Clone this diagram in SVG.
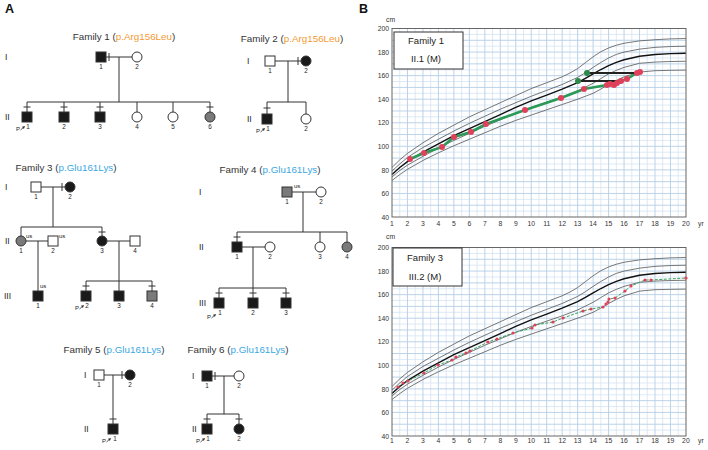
<svg xmlns="http://www.w3.org/2000/svg" xmlns:xlink="http://www.w3.org/1999/xlink" width="708" height="450" viewBox="0 0 708 450">
<style>
text{font-family:"Liberation Sans",Arial,sans-serif;fill:#2a2a2a}
.pl{font-size:12.5px;font-weight:bold;fill:#111}
.ttl{font-size:9.8px;text-anchor:middle;fill:#333}
.org{fill:#f39a35}
.blu{fill:#3aa8df}
.gen{font-size:8.5px;fill:#222}
.num{font-size:6.3px;text-anchor:middle;fill:#222}
.us{font-size:6px;fill:#222}
.pp{font-size:6px;fill:#222}
.ln{stroke:#333;stroke-width:1;fill:none}
.aff{fill:#1a1a1a;stroke:#333;stroke-width:1}
.un{fill:#fff;stroke:#333;stroke-width:1}
.gry{fill:#7a7a7a;stroke:#333;stroke-width:1}
.gmin{stroke:#d0e1f1;stroke-width:0.7;fill:none}
.gmaj{stroke:#b4cee6;stroke-width:0.9;fill:none}
.pc{stroke:#555;stroke-width:0.8;fill:none;stroke-linejoin:round}
.pb{stroke:#111;stroke-width:1.4;fill:none;stroke-linejoin:round}
.frame{fill:none;stroke:#666;stroke-width:1}
.lg{fill:#fff;stroke:#333;stroke-width:1}
.lgt{font-size:9.5px;text-anchor:middle;fill:#222}
.ax{font-size:6.8px;fill:#333}
.axy{font-size:6.8px;fill:#333;text-anchor:end}
.axx{font-size:6.8px;fill:#333;text-anchor:middle}
.rd{fill:#e0405a}
.gd{fill:#2a8a4a}
</style>
<defs>
<g id="parrow"><path d="M0 0 L3 -2.6" stroke="#333" stroke-width="0.8"/><polygon points="4.6,-4 1.5,-3.3 3.3,-1.1" fill="#333"/></g>
<g id="chartbase">
<path class="gmin" vector-effect="non-scaling-stroke" d="M1.5 40V200M2.5 40V200M3.5 40V200M4.5 40V200M5.5 40V200M6.5 40V200M7.5 40V200M8.5 40V200M9.5 40V200M10.5 40V200M11.5 40V200M12.5 40V200M13.5 40V200M14.5 40V200M15.5 40V200M16.5 40V200M17.5 40V200M18.5 40V200M19.5 40V200M1 45H20M1 55H20M1 65H20M1 75H20M1 85H20M1 95H20M1 105H20M1 115H20M1 125H20M1 135H20M1 145H20M1 155H20M1 165H20M1 175H20M1 185H20M1 195H20"/>
<path class="gmaj" vector-effect="non-scaling-stroke" d="M2 40V200M3 40V200M4 40V200M5 40V200M6 40V200M7 40V200M8 40V200M9 40V200M10 40V200M11 40V200M12 40V200M13 40V200M14 40V200M15 40V200M16 40V200M17 40V200M18 40V200M19 40V200M1 50H20M1 60H20M1 70H20M1 80H20M1 90H20M1 100H20M1 110H20M1 120H20M1 130H20M1 140H20M1 150H20M1 160H20M1 170H20M1 180H20M1 190H20"/>
<polyline class="pc" vector-effect="non-scaling-stroke" points="1,82 1.5,88.5 2,94 3,103 4,111 5,118 6,125 7,131 8,137 9,143 10,149 11,154 12,159 12.5,162.2 13,166 13.5,171 14,176 14.5,180.3 15,183.5 15.5,185.8 16,187.5 17,189.5 18,190.5 19,191.2 20,191.5"/>
<polyline class="pc" vector-effect="non-scaling-stroke" points="1,79 1.5,85 2,90.5 3,99 4,106 5,113 6,119.5 7,125.5 8,131.5 9,137 10,142.5 11,147.5 12,152.5 13,158.5 13.5,162.5 14,167 14.5,171.2 15,175 15.5,178 16,180 17,182.5 18,184 19,184.7 20,185"/>
<polyline class="pb" vector-effect="non-scaling-stroke" points="1,76 1.5,82 2,87 3,95 4,102 5,109 6,115 7,121 8,127 9,133 10,138.5 11,143.5 12,148.5 13,154 13.5,157.6 14,161.5 14.5,165.2 15,168.5 15.5,171.3 16,173.5 17,176.5 18,178 19,178.7 20,179"/>
<polyline class="pc" vector-effect="non-scaling-stroke" points="1,74 1.5,79.5 2,84 3,91.5 4,98.5 5,105 6,111 7,117 8,122.5 9,128 10,133 11,137.5 12,142 13,147 14,153.5 14.5,157.5 15,161.5 15.5,164.5 16,167 17,170.5 18,171.5 19,172 20,172.2"/>
<polyline class="pc" vector-effect="non-scaling-stroke" points="1,71 1.5,76 2,80.5 3,88 4,94.5 5,100.5 6,106 7,111.5 8,117 9,122 10,126.5 11,131 12,135.5 13,140 14,145 14.5,148.6 15,152.5 15.5,156 16,159 17,163 18,164.2 19,164.5 20,164.7"/>
</g>
</defs>
<rect width="708" height="450" fill="#fff"/>
<text class="pl" x="5" y="12.5">A</text>
<text class="pl" x="359" y="12.5">B</text>

<!-- Family 1 -->
<g id="family1">
<text class="ttl" x="124" y="40">Family 1 (<tspan class="org">p.Arg156Leu</tspan>)</text>
<text class="gen" x="5" y="60">I</text>
<text class="gen" x="5" y="120">II</text>
<g id="f1-connectors">
<path class="ln" d="M106 57H132M109 53V61M119 57V102M27 102H210M27 102V112M64 102V112M100 102V112M137 102V112M173 102V112M210 102V112M23.5 107H30.5M60.5 107H67.5M96.5 107H103.5M206.5 107H213.5"/>
</g>
<g id="f1-I1"><rect class="aff" x="96" y="52" width="10" height="10"/><text class="num" x="101" y="69">1</text></g>
<g id="f1-I2"><circle class="un" cx="137" cy="57" r="5"/><text class="num" x="137" y="69">2</text></g>
<g id="f1-II1"><rect class="aff" x="22" y="112" width="10" height="10"/><text class="num" x="28" y="129">1</text><text class="pp" x="16" y="131">P</text><use xlink:href="#parrow" x="20.5" y="130"/></g>
<g id="f1-II2"><rect class="aff" x="59" y="112" width="10" height="10"/><text class="num" x="64" y="129">2</text></g>
<g id="f1-II3"><rect class="aff" x="95" y="112" width="10" height="10"/><text class="num" x="100" y="129">3</text></g>
<g id="f1-II4"><circle class="un" cx="137" cy="117" r="5"/><text class="num" x="137" y="129">4</text></g>
<g id="f1-II5"><circle class="un" cx="173" cy="117" r="5"/><text class="num" x="173" y="129">5</text></g>
<g id="f1-II6"><circle class="gry" cx="210" cy="117" r="5"/><text class="num" x="210" y="129">6</text></g>
</g>

<!-- Family 2 -->
<g id="family2">
<text class="ttl" x="292" y="42">Family 2 (<tspan class="org">p.Arg156Leu</tspan>)</text>
<text class="gen" x="247" y="64">I</text>
<text class="gen" x="247" y="122">II</text>
<g id="f2-connectors">
<path class="ln" d="M275 61H301M298 57V65M288 61V102M267 102H306M267 102V114M306 102V114M263.5 108H270.5"/>
</g>
<g id="f2-I1"><rect class="un" x="265" y="56" width="10" height="10"/><text class="num" x="270" y="73">1</text></g>
<g id="f2-I2"><circle class="aff" cx="306" cy="61" r="5"/><text class="num" x="306" y="73">2</text></g>
<g id="f2-II1"><rect class="aff" x="262" y="114" width="10" height="10"/><text class="num" x="268" y="131">1</text><text class="pp" x="256" y="133">P</text><use xlink:href="#parrow" x="260.5" y="132"/></g>
<g id="f2-II2"><circle class="un" cx="306" cy="119" r="5"/><text class="num" x="306" y="131">2</text></g>
</g>

<!-- Family 3 -->
<g id="family3">
<text class="ttl" x="66" y="171">Family 3 (<tspan class="blu">p.Glu161Lys</tspan>)</text>
<text class="gen" x="5" y="190">I</text>
<text class="gen" x="5" y="244">II</text>
<text class="gen" x="4" y="299">III</text>
<g id="f3-connectors">
<path class="ln" d="M41 187H65M62 183V191M53 187V227M21 227H102M21 227V236M102 227V236M98.5 232H105.5M26 241H48M107 241H130M38 241V291M119 241V281M86 281H152M86 281V291M119 281V291M152 281V291M82.5 286H89.5M148.5 286H155.5"/>
</g>
<g id="f3-I1"><rect class="un" x="31" y="182" width="10" height="10"/><text class="num" x="36" y="199">1</text></g>
<g id="f3-I2"><circle class="aff" cx="70" cy="187" r="5"/><text class="num" x="70" y="199">2</text></g>
<g id="f3-II1"><circle class="gry" cx="21" cy="241" r="5"/><text class="us" x="26" y="238">us</text><text class="num" x="21" y="253">1</text></g>
<g id="f3-II2"><rect class="un" x="48" y="236" width="10" height="10"/><text class="us" x="59" y="238">us</text><text class="num" x="53" y="253">2</text></g>
<g id="f3-II3"><circle class="aff" cx="102" cy="241" r="5"/><text class="num" x="102" y="253">3</text></g>
<g id="f3-II4"><rect class="un" x="130" y="236" width="10" height="10"/><text class="num" x="135" y="253">4</text></g>
<g id="f3-III1"><rect class="aff" x="33" y="291" width="10" height="10"/><text class="us" x="40" y="288">us</text><text class="num" x="38" y="308">1</text></g>
<g id="f3-III2"><rect class="aff" x="81" y="291" width="10" height="10"/><text class="num" x="87" y="308">2</text><text class="pp" x="75" y="310">P</text><use xlink:href="#parrow" x="79.5" y="309"/></g>
<g id="f3-III3"><rect class="aff" x="114" y="291" width="10" height="10"/><text class="num" x="119" y="308">3</text></g>
<g id="f3-III4"><rect class="gry" x="147" y="291" width="10" height="10"/><text class="num" x="152" y="308">4</text></g>
</g>

<!-- Family 4 -->
<g id="family4">
<text class="ttl" x="270" y="173">Family 4 (<tspan class="blu">p.Glu161Lys</tspan>)</text>
<text class="gen" x="199" y="195">I</text>
<text class="gen" x="199" y="250">II</text>
<text class="gen" x="199" y="306">III</text>
<g id="f4-connectors">
<path class="ln" d="M292 192H316M303 192V232M237 232H347M237 232V242M320 232V242M347 232V242M233.5 237H240.5M242 247H265M253 247V288M219 288H286M219 288V298M253 288V298M286 288V298M215.5 293H222.5M249.5 293H256.5M282.5 293H289.5"/>
</g>
<g id="f4-I1"><rect class="gry" x="282" y="187" width="10" height="10"/><text class="us" x="294" y="188">us</text><text class="num" x="287" y="204">1</text></g>
<g id="f4-I2"><circle class="un" cx="321" cy="192" r="5"/><text class="num" x="321" y="204">2</text></g>
<g id="f4-II1"><rect class="aff" x="232" y="242" width="10" height="10"/><text class="num" x="237" y="259">1</text></g>
<g id="f4-II2"><circle class="un" cx="270" cy="247" r="5"/><text class="num" x="270" y="259">2</text></g>
<g id="f4-II3"><circle class="un" cx="320" cy="247" r="5"/><text class="num" x="320" y="259">3</text></g>
<g id="f4-II4"><circle class="gry" cx="347" cy="247" r="5"/><text class="num" x="347" y="259">4</text></g>
<g id="f4-III1"><rect class="aff" x="214" y="298" width="10" height="10"/><text class="num" x="220" y="315">1</text><text class="pp" x="207" y="319">P</text><use xlink:href="#parrow" x="211.5" y="318"/></g>
<g id="f4-III2"><rect class="aff" x="248" y="298" width="10" height="10"/><text class="num" x="253" y="315">2</text></g>
<g id="f4-III3"><rect class="aff" x="281" y="298" width="10" height="10"/><text class="num" x="286" y="315">3</text></g>
</g>

<!-- Family 5 -->
<g id="family5">
<text class="ttl" x="114" y="353">Family 5 (<tspan class="blu">p.Glu161Lys</tspan>)</text>
<text class="gen" x="84" y="378">I</text>
<text class="gen" x="84" y="432">II</text>
<g id="f5-connectors">
<path class="ln" d="M104 375H125M122 371V379M113 375V424M109.5 419H116.5"/>
</g>
<g id="f5-I1"><rect class="un" x="94" y="370" width="10" height="10"/><text class="num" x="99" y="387">1</text></g>
<g id="f5-I2"><circle class="aff" cx="130" cy="375" r="5"/><text class="num" x="130" y="387">2</text></g>
<g id="f5-II1"><rect class="aff" x="108" y="424" width="10" height="10"/><text class="num" x="115" y="441">1</text><text class="pp" x="102" y="443">P</text><use xlink:href="#parrow" x="106.5" y="442"/></g>
</g>

<!-- Family 6 -->
<g id="family6">
<text class="ttl" x="238" y="353">Family 6 (<tspan class="blu">p.Glu161Lys</tspan>)</text>
<text class="gen" x="192" y="379">I</text>
<text class="gen" x="192" y="432">II</text>
<g id="f6-connectors">
<path class="ln" d="M212 376H234M215 372V380M224 376V414M207 414H239M207 414V424M239 414V424M203.5 419H210.5M235.5 419H242.5"/>
</g>
<g id="f6-I1"><rect class="aff" x="202" y="371" width="10" height="10"/><text class="num" x="207" y="388">1</text></g>
<g id="f6-I2"><circle class="un" cx="239" cy="376" r="5"/><text class="num" x="239" y="388">2</text></g>
<g id="f6-II1"><rect class="aff" x="202" y="424" width="10" height="10"/><text class="num" x="208" y="441">1</text><text class="pp" x="196" y="443">P</text><use xlink:href="#parrow" x="200.5" y="442"/></g>
<g id="f6-II2"><circle class="aff" cx="239" cy="429" r="5"/><text class="num" x="239" y="441">2</text></g>
</g>

<!-- Chart 1 -->
<g id="chart1">
<rect x="392" y="28.5" width="294" height="188.5" fill="#fff"/>
<use xlink:href="#chartbase" transform="matrix(15.47 0 0 -1.178 376.53 264.12)"/>
<rect class="frame" x="392" y="28.5" width="294" height="188.5"/>
<g id="chart1-data">
<polyline fill="none" stroke="#2b9a57" stroke-width="2.6" stroke-linejoin="round" points="410,159 424,153 442,147 454,137 471,132 486,124 525,110 561,98 584,89 607,85 609,84 613,85 617,83 621,81 627,79 637,73 640,72"/>
<path d="M587 73H637M578 81H621" stroke="#222" stroke-width="2" fill="none"/>
<circle class="gd" cx="587" cy="73" r="3"/><circle class="gd" cx="578" cy="81" r="3"/>
<circle class="rd" cx="410" cy="159" r="3"/><circle class="rd" cx="424" cy="153" r="3"/><circle class="rd" cx="442" cy="147" r="3"/><circle class="rd" cx="454" cy="137" r="3"/><circle class="rd" cx="471" cy="132" r="3"/><circle class="rd" cx="486" cy="124" r="3"/><circle class="rd" cx="525" cy="110" r="3"/><circle class="rd" cx="561" cy="98" r="3"/><circle class="rd" cx="584" cy="89" r="3"/><circle class="rd" cx="607" cy="85" r="3"/><circle class="rd" cx="610" cy="84" r="3"/><circle class="rd" cx="614" cy="85" r="3"/><circle class="rd" cx="617" cy="83" r="3"/><circle class="rd" cx="621" cy="81" r="3"/><circle class="rd" cx="627" cy="79" r="3"/><circle class="rd" cx="637" cy="73" r="3"/><circle class="rd" cx="640" cy="72" r="3"/>
</g>
<rect class="lg" x="394" y="32" width="69" height="37"/>
<text class="lgt" x="426" y="44">Family 1</text>
<text class="lgt" x="426" y="62">II.1 (M)</text>
<text class="ax" x="386" y="22">cm</text>
<text class="ax" x="698" y="226">yr</text>
<text class="axy" x="389" y="31">200</text><text class="axy" x="389" y="54.6">180</text><text class="axy" x="389" y="78.2">160</text><text class="axy" x="389" y="101.8">140</text><text class="axy" x="389" y="125.3">120</text><text class="axy" x="389" y="148.9">100</text><text class="axy" x="389" y="172.5">80</text><text class="axy" x="389" y="196.1">60</text><text class="axy" x="389" y="219.7">40</text>
<text class="axx" x="392" y="226">1</text><text class="axx" x="407.5" y="226">2</text><text class="axx" x="422.9" y="226">3</text><text class="axx" x="438.4" y="226">4</text><text class="axx" x="453.9" y="226">5</text><text class="axx" x="469.4" y="226">6</text><text class="axx" x="484.8" y="226">7</text><text class="axx" x="500.3" y="226">8</text><text class="axx" x="515.8" y="226">9</text><text class="axx" x="531.2" y="226">10</text><text class="axx" x="546.7" y="226">11</text><text class="axx" x="562.2" y="226">12</text><text class="axx" x="577.6" y="226">13</text><text class="axx" x="593.1" y="226">14</text><text class="axx" x="608.6" y="226">15</text><text class="axx" x="624.1" y="226">16</text><text class="axx" x="639.5" y="226">17</text><text class="axx" x="655" y="226">18</text><text class="axx" x="670.5" y="226">19</text><text class="axx" x="685.9" y="226">20</text>
</g>

<!-- Chart 2 -->
<g id="chart2">
<rect x="392" y="247.5" width="294" height="188.5" fill="#fff"/>
<use xlink:href="#chartbase" transform="matrix(15.47 0 0 -1.178 376.53 483.12)"/>
<rect class="frame" x="392" y="247.5" width="294" height="188.5"/>
<g id="chart2-data">
<polyline fill="none" stroke="#3aa05a" stroke-width="1" stroke-dasharray="3 1.5" stroke-linejoin="round" points="398,387 403,383 408,381 424,373 438,365 452,360 456,357 466,353 470,351 488,342 497,339 513,333 532,328 535,325 553,322 563,318 583,311 591,309 603,307 606,304 608,302 609,299 615,298 625,291 631,286 645,280 651,280 686,278"/>
<circle class="rd" cx="398" cy="387" r="1.6"/><circle class="rd" cx="403" cy="383" r="1.6"/><circle class="rd" cx="408" cy="381" r="1.6"/><circle class="rd" cx="424" cy="373" r="1.6"/><circle class="rd" cx="438" cy="365" r="1.6"/><circle class="rd" cx="452" cy="360" r="1.6"/><circle class="rd" cx="456" cy="357" r="1.6"/><circle class="rd" cx="466" cy="353" r="1.6"/><circle class="rd" cx="470" cy="351" r="1.6"/><circle class="rd" cx="488" cy="342" r="1.6"/><circle class="rd" cx="497" cy="339" r="1.6"/><circle class="rd" cx="513" cy="333" r="1.6"/><circle class="rd" cx="532" cy="328" r="1.6"/><circle class="rd" cx="535" cy="325" r="1.6"/><circle class="rd" cx="553" cy="322" r="1.6"/><circle class="rd" cx="563" cy="318" r="1.6"/><circle class="rd" cx="583" cy="311" r="1.6"/><circle class="rd" cx="591" cy="309" r="1.6"/><circle class="rd" cx="603" cy="307" r="1.6"/><circle class="rd" cx="606" cy="304" r="1.6"/><circle class="rd" cx="608" cy="302" r="1.6"/><circle class="rd" cx="609" cy="299" r="1.6"/><circle class="rd" cx="615" cy="298" r="1.6"/><circle class="rd" cx="625" cy="291" r="1.6"/><circle class="rd" cx="631" cy="286" r="1.6"/><circle class="rd" cx="645" cy="280" r="1.6"/><circle class="rd" cx="651" cy="280" r="1.6"/><circle class="rd" cx="686" cy="278" r="1.6"/>
</g>
<rect class="lg" x="393" y="248" width="69" height="38"/>
<text class="lgt" x="425" y="260.5">Family 3</text>
<text class="lgt" x="425" y="280">III.2 (M)</text>
<text class="ax" x="386" y="239">cm</text>
<text class="ax" x="698" y="443">yr</text>
<text class="axy" x="389" y="250">200</text><text class="axy" x="389" y="273.6">180</text><text class="axy" x="389" y="297.2">160</text><text class="axy" x="389" y="320.8">140</text><text class="axy" x="389" y="344.3">120</text><text class="axy" x="389" y="367.9">100</text><text class="axy" x="389" y="391.5">80</text><text class="axy" x="389" y="415.1">60</text><text class="axy" x="389" y="438.7">40</text>
<text class="axx" x="392" y="443">1</text><text class="axx" x="407.5" y="443">2</text><text class="axx" x="422.9" y="443">3</text><text class="axx" x="438.4" y="443">4</text><text class="axx" x="453.9" y="443">5</text><text class="axx" x="469.4" y="443">6</text><text class="axx" x="484.8" y="443">7</text><text class="axx" x="500.3" y="443">8</text><text class="axx" x="515.8" y="443">9</text><text class="axx" x="531.2" y="443">10</text><text class="axx" x="546.7" y="443">11</text><text class="axx" x="562.2" y="443">12</text><text class="axx" x="577.6" y="443">13</text><text class="axx" x="593.1" y="443">14</text><text class="axx" x="608.6" y="443">15</text><text class="axx" x="624.1" y="443">16</text><text class="axx" x="639.5" y="443">17</text><text class="axx" x="655" y="443">18</text><text class="axx" x="670.5" y="443">19</text><text class="axx" x="685.9" y="443">20</text>
</g>
</svg>
